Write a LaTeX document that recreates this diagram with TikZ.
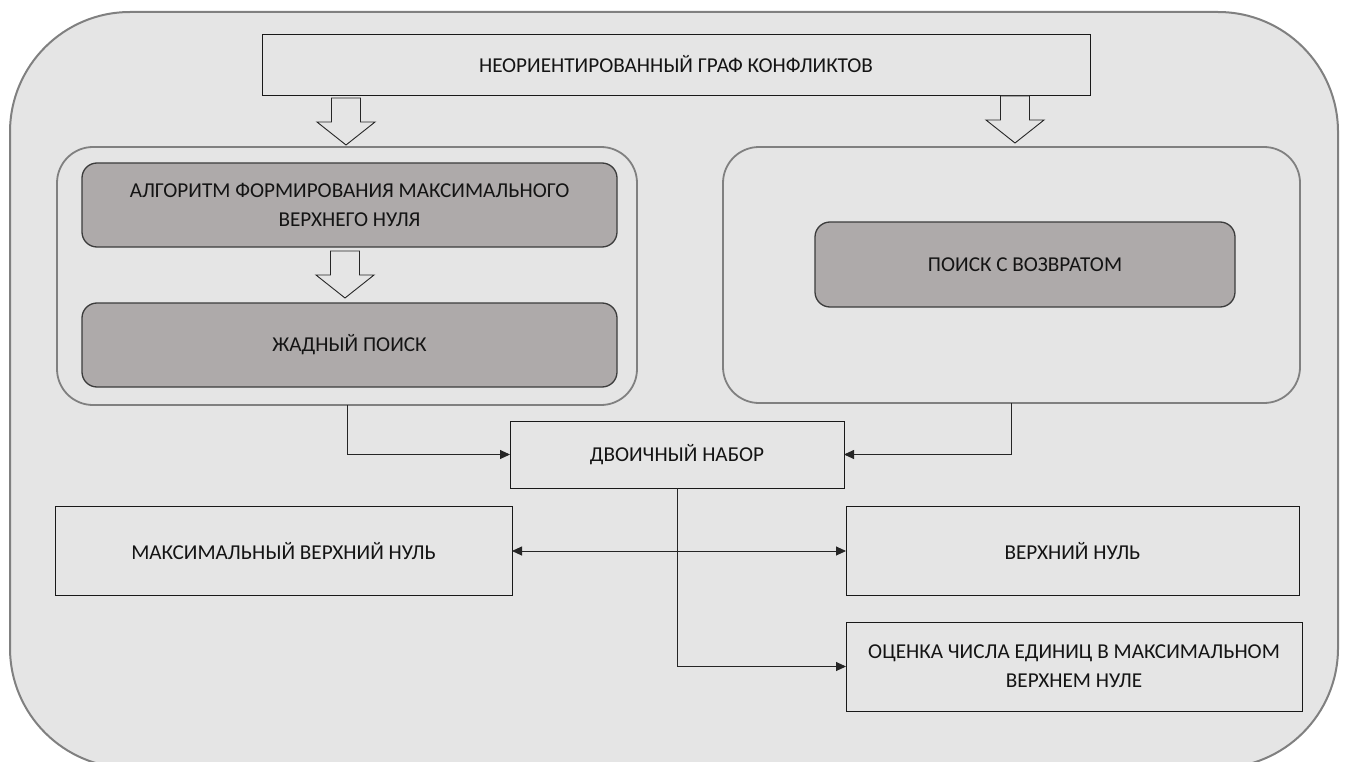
\documentclass[tikz,border=0pt]{standalone}
\usepackage{fontspec}
\setmainfont{Carlito}
\usetikzlibrary{arrows.meta}

\definecolor{panel}{HTML}{E5E5E5}
\definecolor{rimgray}{HTML}{808080}
\definecolor{stepfill}{HTML}{AEAAAA}
\definecolor{stepline}{HTML}{3C3C3C}
\definecolor{inktext}{HTML}{141414}

\tikzset{
  every node/.style={font=\fontsize{21.2}{29}\selectfont, text=inktext, align=center,
    inner sep=0pt, outer sep=0pt},
  plainbox/.style={draw=black!90, line width=0.9pt, rectangle},
  stepbox/.style={draw=stepline, fill=stepfill, line width=1.3pt, rounded corners=15pt},
  groupbox/.style={draw=rimgray, fill=panel, line width=1.8pt, rounded corners=36pt},
  link/.style={draw=black!85, line width=0.9pt, -{Triangle[length=10pt,width=9pt]}},
  twolink/.style={draw=black!85, line width=0.9pt,
    {Triangle[length=10pt,width=9pt]}-{Triangle[length=10pt,width=9pt]}},
  blockarrow/.style={draw=black!85, fill=panel, line width=0.9pt, line join=miter},
  downarrow/.pic={
    \path[blockarrow] (-14.5,0) -- (14.5,0) -- (14.5,24) -- (29,24) -- (0,47)
      -- (-29,24) -- (-14.5,24) -- cycle;
  }
}

\begin{document}
\begin{tikzpicture}[x=1pt, y=-1pt]
  \clip (0,0) rectangle (1348,762);
  \useasboundingbox (0,0) rectangle (1348,762);
  \fill[white] (0,0) rectangle (1348,762);

  % outer panel
  \draw[draw=rimgray, fill=panel, line width=2pt, rounded corners=120pt]
    (10,12) rectangle (1338,768);

  % source graph
  \node[plainbox, minimum width=828pt, minimum height=61pt] (graph) at (676,64.5)
    {НЕОРИЕНТИРОВАННЫЙ ГРАФ КОНФЛИКТОВ};

  % left group: greedy approach
  \node[groupbox, minimum width=580pt, minimum height=258pt] (lgroup) at (347,276) {};
  \node[stepbox, minimum width=535pt, minimum height=84pt] (algo) at (349.5,205)
    {АЛГОРИТМ ФОРМИРОВАНИЯ МАКСИМАЛЬНОГО\\ВЕРХНЕГО НУЛЯ};
  \node[stepbox, minimum width=535pt, minimum height=84pt] (greedy) at (349.5,345)
    {ЖАДНЫЙ ПОИСК};

  % right group: backtracking
  \node[groupbox, minimum width=577pt, minimum height=256pt] (rgroup) at (1011.5,275) {};
  \node[stepbox, minimum width=420pt, minimum height=85pt] (backtrack) at (1025,264.5)
    {ПОИСК С ВОЗВРАТОМ};

  % block arrows
  \pic at (346,98) {downarrow};
  \pic at (1015,96) {downarrow};
  \pic at (345,251) {downarrow};

  % result nodes
  \node[plainbox, minimum width=334pt, minimum height=67pt] (binset) at (677,454.5)
    {ДВОИЧНЫЙ НАБОР};
  \node[plainbox, minimum width=457pt, minimum height=89pt] (maxzero) at (283.5,551)
    {МАКСИМАЛЬНЫЙ ВЕРХНИЙ НУЛЬ};
  \node[plainbox, minimum width=453pt, minimum height=89pt] (upzero) at (1072.5,551)
    {ВЕРХНИЙ НУЛЬ};
  \node[plainbox, minimum width=456pt, minimum height=89pt] (estimate) at (1074,666.5)
    {ОЦЕНКА ЧИСЛА ЕДИНИЦ В МАКСИМАЛЬНОМ\\ВЕРХНЕМ НУЛЕ};

  % connectors
  \draw[link] (lgroup.south) |- (binset.west);
  \draw[link] (rgroup.south) |- (binset.east);
  \draw[twolink] (maxzero.east) -- (upzero.west);
  \draw[link] (binset.south) |- (estimate.west);
\end{tikzpicture}
\end{document}
